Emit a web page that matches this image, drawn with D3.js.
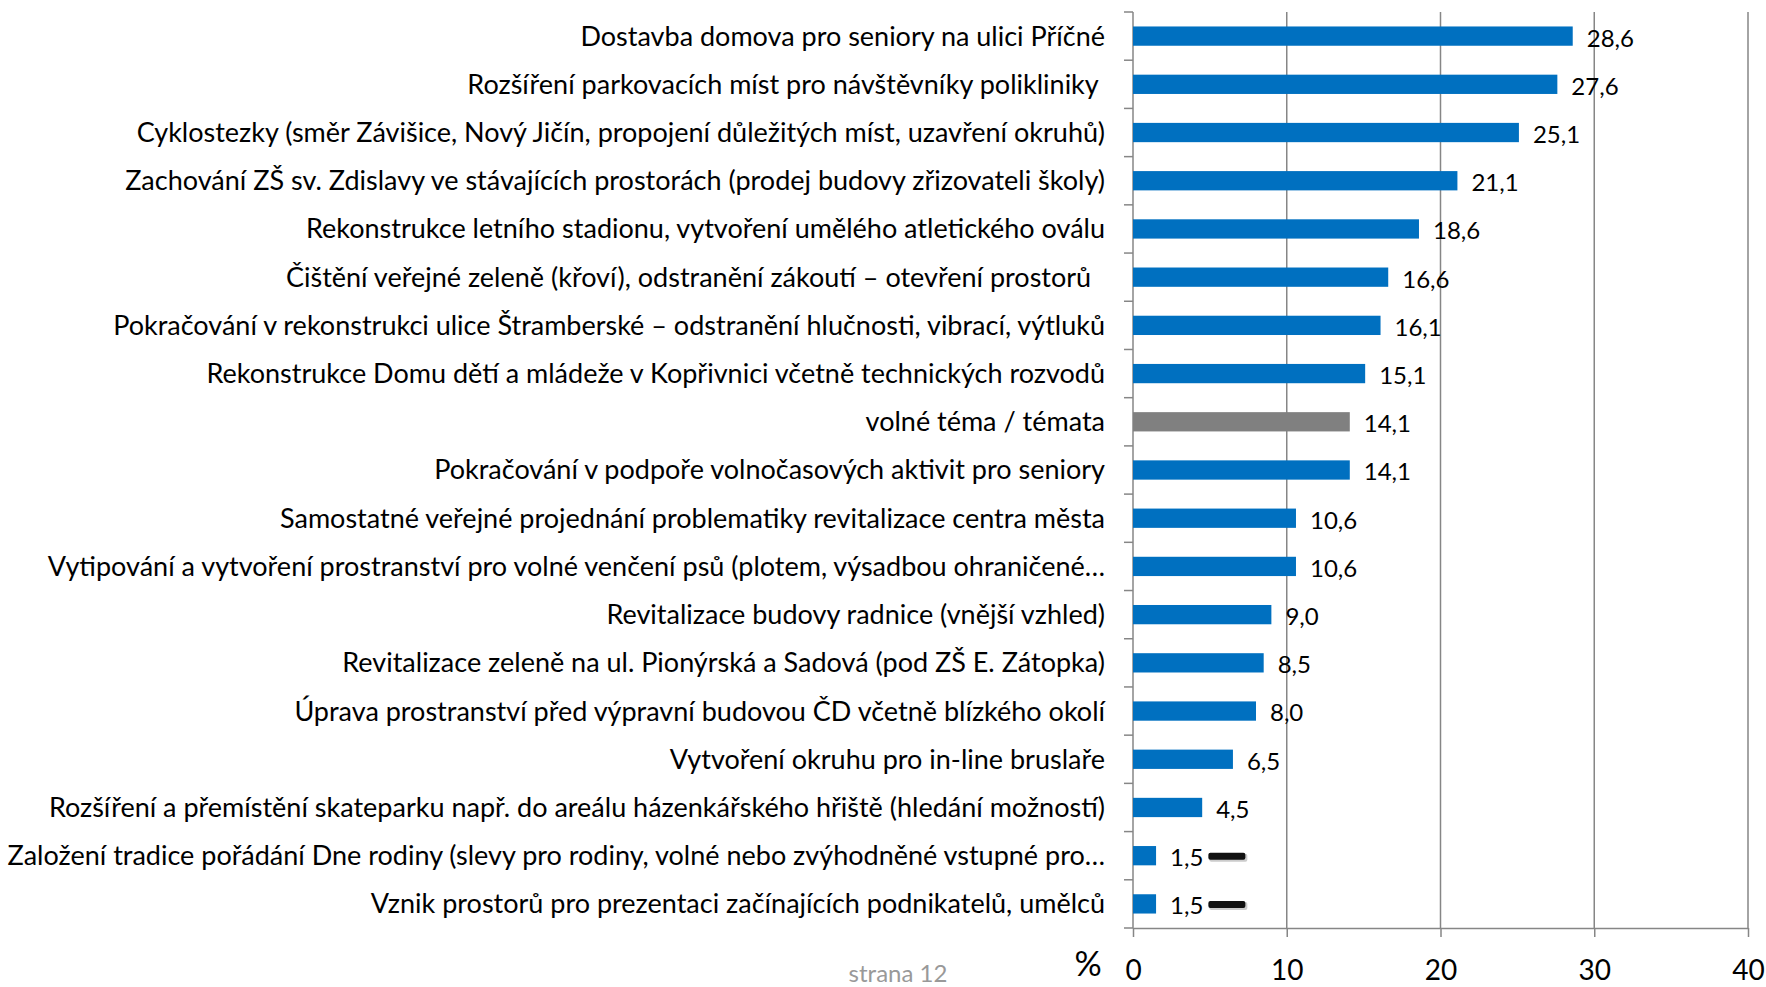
<!DOCTYPE html>
<html>
<head>
<meta charset="utf-8">
<script src="https://cdn.jsdelivr.net/npm/d3@7"></script>
<style>
  body { margin: 0; background: #fff; }
  text { font-family: Lato, "Noto Sans", sans-serif; white-space: pre; }
</style>
</head>
<body>
<div id="chart"></div>
<script>
// categories (top to bottom) and their values in %
var categories = [
    "Dostavba domova pro seniory na ulici Příčné",
    "Rozšíření parkovacích míst pro návštěvníky polikliniky ",
    "Cyklostezky (směr Závišice, Nový Jičín, propojení důležitých míst, uzavření okruhů)",
    "Zachování ZŠ sv. Zdislavy ve stávajících prostorách (prodej budovy zřizovateli školy)",
    "Rekonstrukce letního stadionu, vytvoření umělého atletického oválu",
    "Čištění veřejné zeleně (křoví), odstranění zákoutí – otevření prostorů  ",
    "Pokračování v rekonstrukci ulice Štramberské – odstranění hlučnosti, vibrací, výtluků",
    "Rekonstrukce Domu dětí a mládeže v Kopřivnici včetně technických rozvodů",
    "volné téma / témata",
    "Pokračování v podpoře volnočasových aktivit pro seniory",
    "Samostatné veřejné projednání problematiky revitalizace centra města",
    "Vytipování a vytvoření prostranství pro volné venčení psů (plotem, výsadbou ohraničené…",
    "Revitalizace budovy radnice (vnější vzhled)",
    "Revitalizace zeleně na ul. Pionýrská a Sadová (pod ZŠ E. Zátopka)",
    "Úprava prostranství před výpravní budovou ČD včetně blízkého okolí",
    "Vytvoření okruhu pro in-line bruslaře",
    "Rozšíření a přemístění skateparku např. do areálu házenkářského hřiště (hledání možností)",
    "Založení tradice pořádání Dne rodiny (slevy pro rodiny, volné nebo zvýhodněné vstupné pro…",
    "Vznik prostorů pro prezentaci začínajících podnikatelů, umělců"
];
var values = [28.6, 27.6, 25.1, 21.1, 18.6, 16.6, 16.1, 15.1, 14.1, 14.1, 10.6, 10.6, 9.0, 8.5, 8.0, 6.5, 4.5, 1.5, 1.5];
var grayCategories = ["volné téma / témata"];
var markedCategories = [
    "Založení tradice pořádání Dne rodiny (slevy pro rodiny, volné nebo zvýhodněné vstupné pro…",
    "Vznik prostorů pro prezentaci začínajících podnikatelů, umělců"
];
var xTicks = [0, 10, 20, 30, 40];

var data = categories.map(function (c, i) { return { name: c, value: values[i] }; });

// set the dimensions and margins of the graph
var margin = { top: 12, right: 18, bottom: 59, left: 1133 },
    width = 1766 - margin.left - margin.right,
    height = 987 - margin.top - margin.bottom;

var svg = d3.select("#chart")
    .append("svg")
    .attr("width", width + margin.left + margin.right)
    .attr("height", height + margin.top + margin.bottom)
    .append("g")
    .attr("transform", "translate(" + margin.left + "," + margin.top + ")");

var x = d3.scaleLinear().domain([0, 40]).range([0, width]);
var y = d3.scaleBand().domain(categories).range([0, height]).paddingInner(0.6).paddingOuter(0.3);
var band = d3.scaleBand().domain(categories).range([0, height]);

var axisColor = "#868686";

// gridlines
svg.append("g")
    .selectAll("line")
    .data(xTicks.slice(1))
    .enter().append("line")
    .attr("x1", function (d) { return x(d); })
    .attr("x2", function (d) { return x(d); })
    .attr("y1", 0)
    .attr("y2", height)
    .attr("stroke", axisColor)
    .attr("stroke-width", 1.5);

// X axis
var xAxis = svg.append("g")
    .attr("transform", "translate(0," + height + ")")
    .call(d3.axisBottom(x).tickValues(xTicks).tickSize(9).tickPadding(23).tickSizeOuter(0));
xAxis.select(".domain").attr("stroke", axisColor).attr("stroke-width", 1.5);
xAxis.selectAll(".tick line").attr("stroke", axisColor).attr("stroke-width", 1.5);
xAxis.selectAll(".tick text")
    .attr("fill", "#000")
    .style("font-size", "28px")
    .style("font-family", "Lato, 'Noto Sans', sans-serif");

// Y axis: ticks between categories
svg.append("line")
    .attr("x1", 0).attr("x2", 0).attr("y1", 0).attr("y2", height)
    .attr("stroke", axisColor).attr("stroke-width", 1.5);
svg.append("g")
    .selectAll("line")
    .data(d3.range(categories.length + 1))
    .enter().append("line")
    .attr("x1", -9).attr("x2", 0)
    .attr("y1", function (i) { return i * band.step(); })
    .attr("y2", function (i) { return i * band.step(); })
    .attr("stroke", axisColor).attr("stroke-width", 1.5);

// category labels
svg.append("g")
    .selectAll("text")
    .data(data)
    .enter().append("text")
    .attr("x", -28)
    .attr("y", function (d) { return band(d.name) + band.bandwidth() / 2; })
    .attr("dy", "0.35em")
    .attr("text-anchor", "end")
    .style("font-size", "27px")
    .attr("fill", "#000")
    .text(function (d) { return d.name; });

// bars
svg.append("g")
    .selectAll("rect")
    .data(data)
    .enter().append("rect")
    .attr("x", x(0))
    .attr("y", function (d) { return y(d.name); })
    .attr("width", function (d) { return x(d.value) - x(0); })
    .attr("height", y.bandwidth())
    .attr("fill", function (d) { return grayCategories.indexOf(d.name) >= 0 ? "#808080" : "#0070C0"; });

// value labels
var fmt = function (v) { return v.toFixed(1).replace(".", ","); };
var vlabels = svg.append("g")
    .selectAll("text")
    .data(data)
    .enter().append("text")
    .attr("x", function (d) { return x(d.value) + 14; })
    .attr("y", function (d) { return band(d.name) + band.bandwidth() / 2 + 2; })
    .attr("dy", "0.35em")
    .style("font-size", "24px")
    .attr("fill", "#000")
    .text(function (d) { return fmt(d.value); });

// small black marks after some labels
vlabels.filter(function (d) { return markedCategories.indexOf(d.name) >= 0; })
    .each(function (d) {
        var bb = this.getBBox();
        svg.append("rect")
            .attr("x", bb.x + bb.width + 6)
            .attr("y", band(d.name) + band.bandwidth() / 2 - 2)
            .attr("width", 38)
            .attr("height", 8)
            .attr("rx", 2)
            .attr("fill", "#aaa")
            .attr("opacity", 0.6);
        svg.append("rect")
            .attr("x", bb.x + bb.width + 5)
            .attr("y", band(d.name) + band.bandwidth() / 2 - 3)
            .attr("width", 37)
            .attr("height", 7)
            .attr("rx", 2)
            .attr("fill", "#111");
    });

// % label and page footer
svg.append("text")
    .attr("x", -45)
    .attr("y", height + 48)
    .attr("text-anchor", "middle")
    .style("font-size", "34px")
    .text("%");

svg.append("text")
    .attr("x", 898 - margin.left)
    .attr("y", height + 54)
    .attr("text-anchor", "middle")
    .style("font-size", "24px")
    .attr("fill", "#999")
    .text("strana 12");
</script>
</body>
</html>
